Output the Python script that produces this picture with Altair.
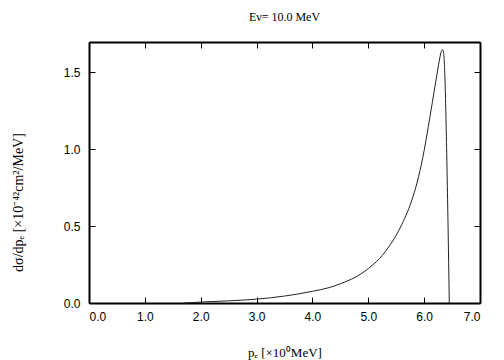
import altair as alt
import pandas as pd

# curve
p_e = [1.70, 2.00, 2.50, 3.00, 3.50, 4.00, 4.30, 4.50, 4.70, 4.85, 5.00, 5.10, 5.20, 5.30,
       5.40, 5.50, 5.60, 5.70, 5.80, 5.90, 6.00, 6.10, 6.20, 6.26, 6.30, 6.33, 6.35, 6.42, 6.45]
dsig = [0.000, 0.006, 0.014, 0.025, 0.045, 0.076, 0.100, 0.125, 0.155, 0.185, 0.223, 0.254, 0.288, 0.332,
        0.382, 0.440, 0.510, 0.590, 0.690, 0.820, 0.990, 1.200, 1.420, 1.550, 1.625, 1.646, 1.620, 0.670, 0.000]

x_ticks = [0, 1, 2, 3, 4, 5, 6, 7]
y_ticks = [0.0, 0.5, 1.0, 1.5]

df = pd.DataFrame({"p": p_e, "s": dsig})

W, H = 391, 261
TL = 6
xs = alt.Scale(domain=[0, 7], nice=False, zero=False)
ys = alt.Scale(domain=[0, 1.695], nice=False, zero=False)

line = alt.Chart(df).mark_line(color="#222222", strokeWidth=1, interpolate="monotone").encode(
    x=alt.X("p:Q", scale=xs,
            axis=alt.Axis(values=x_ticks, format=".1f", title="pₑ [×10⁰MeV]",
                          titleFont="Liberation Serif", titleFontSize=13, titleFontWeight="normal",
                          titleColor="black", titleX=W / 2, titleY=53, titleBaseline="alphabetic",
                          labelFont="Liberation Sans", labelFontSize=12, labelColor="black",
                          labelPadding=8, ticks=False, domain=True, domainColor="black",
                          domainWidth=2,
                          grid=True, gridColor="black", gridOpacity=1, gridWidth=1,
                          gridDash=[TL, H - 2 * TL, TL, 0])),
    y=alt.Y("s:Q", scale=ys,
            axis=alt.Axis(values=y_ticks, format=".1f", title="dσ/dpₑ [×10⁻⁴²cm²/MeV]",
                          titleFont="Liberation Serif", titleFontSize=14, titleFontWeight="normal",
                          titleColor="black", titleX=-71, titleY=160, titleAngle=-90,
                          titleAlign="center", titleBaseline="middle",
                          labelFont="Liberation Sans", labelFontSize=12, labelColor="black",
                          labelPadding=9, ticks=False, domain=True, domainColor="black",
                          domainWidth=2,
                          grid=True, gridColor="black", gridOpacity=1, gridWidth=1,
                          gridDash=[TL, W - 2 * TL, TL, 0])),
)

frame = alt.Chart(df).mark_line(opacity=0).encode(
    x=alt.X("p:Q", scale=xs,
            axis=alt.Axis(orient="top", values=x_ticks, labels=False, ticks=False, title=None,
                          grid=False, domain=True, domainColor="black", domainWidth=2)),
    y=alt.Y("s:Q", scale=ys,
            axis=alt.Axis(orient="right", values=y_ticks, labels=False, ticks=False, title=None,
                          grid=False, domain=True, domainColor="black", domainWidth=2)),
)

chart = alt.layer(line, frame).resolve_axis(x="independent", y="independent").properties(
    width=W, height=H,
    title=alt.TitleParams("Eν= 10.0 MeV", font="Liberation Serif", fontSize=12,
                          fontWeight="normal", color="black", anchor="middle", offset=18),
    autosize=alt.AutoSizeParams(type="none"),
    padding={"left": 81, "top": 34, "right": 16, "bottom": 57},
).configure_view(stroke=None).configure(background="white")

chart.save("out.html", embed_options={"renderer": "svg", "actions": False})
